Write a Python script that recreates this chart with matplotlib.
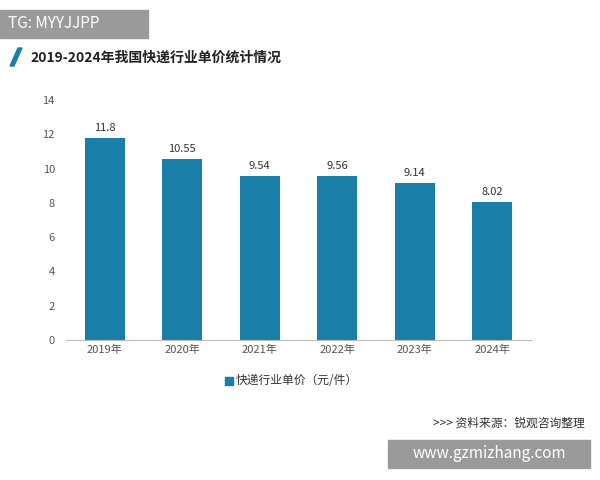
import matplotlib
matplotlib.use("Agg")
import matplotlib.pyplot as plt
from matplotlib.patches import Rectangle, Polygon

plt.rcParams['font.family'] = ['Noto Sans CJK SC', 'DejaVu Sans']

years = ["2019年", "2020年", "2021年", "2022年", "2023年", "2024年"]
values = [11.8, 10.55, 9.54, 9.56, 9.14, 8.02]
labels = ["11.8", "10.55", "9.54", "9.56", "9.14", "8.02"]
yticks = [0, 2, 4, 6, 8, 10, 12, 14]
color = "#1a7fa8"

fig = plt.figure(figsize=(6, 4.8), dpi=100)
ax = fig.add_axes([0.11, 0.2917, 0.775, 0.5])
x = range(len(years))
ax.bar(x, values, width=0.52, color=color)
for i, (v, l) in enumerate(zip(values, labels)):
    ax.text(i, v + 0.3, l, ha="center", va="bottom", fontsize=8, color="#333333")
ax.set_xlim(-0.5, 5.5)
ax.set_ylim(0, 14)
ax.set_yticks(yticks)
ax.set_xticks(list(x))
ax.set_xticklabels(years)
ax.tick_params(axis="both", labelsize=8, colors="#555555", length=0)
ax.tick_params(axis="y", pad=8)
for s in ["top", "right", "left"]:
    ax.spines[s].set_visible(False)
ax.spines["bottom"].set_color("#bbbbbb")

# legend
fig.patches.append(Rectangle((225/600, 1-385/480), 8/600, 8/480, transform=fig.transFigure, color=color))
fig.text(236/600, 1-381/480, "快递行业单价（元/件）", fontsize=8.5, color="#333333", va="center")

# title
fig.patches.append(Polygon([(10/600, 1-66/480), (14/600, 1-66/480), (22/600, 1-48/480), (18/600, 1-48/480)],
                           closed=True, transform=fig.transFigure, color=color))
fig.text(30/600, 1-58/480, "2019-2024年我国快递行业单价统计情况", fontsize=10, fontweight="bold",
         color="#222222", va="center")

# top-left tag
fig.patches.append(Rectangle((0, 1-38/480), 148/600, 28/480, transform=fig.transFigure, color="#9a9a9a"))
fig.text(8/600, 1-24/480, "TG: MYYJJPP", fontsize=11, color="white", va="center")

# source
fig.text(585/600, 1-423/480, ">>> 资料来源：锐观咨询整理", fontsize=8.5, color="#333333", va="center", ha="right")

# bottom-right tag
fig.patches.append(Rectangle((388/600, 1-468/480), 202/600, 28/480, transform=fig.transFigure, color="#9a9a9a"))
fig.text(489/600, 1-454/480, "www.gzmizhang.com", fontsize=11, color="white", va="center", ha="center")

fig.savefig("out.png", dpi=100)
